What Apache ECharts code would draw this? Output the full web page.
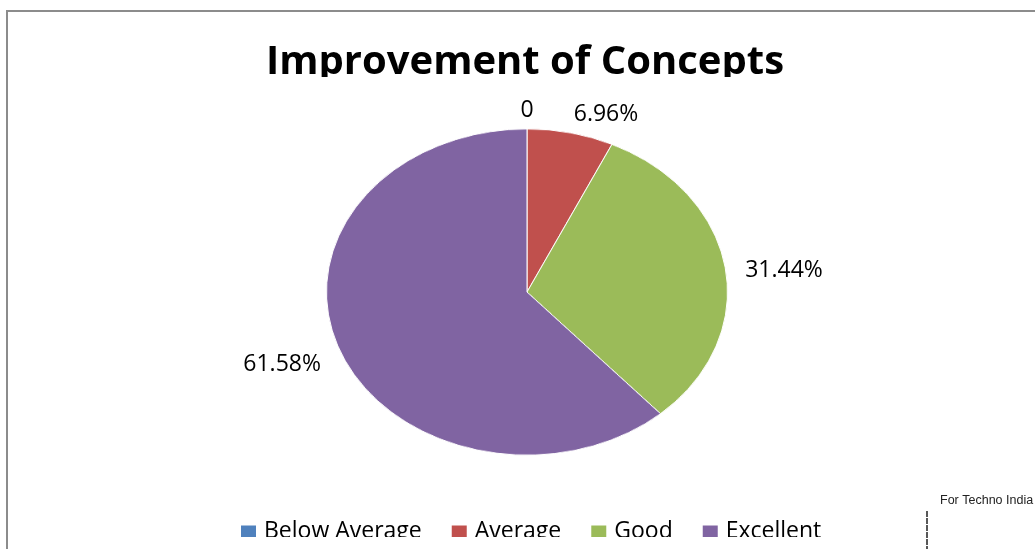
<!DOCTYPE html>
<html>
<head>
<meta charset="utf-8">
<title>Improvement of Concepts</title>
<script src="https://cdn.jsdelivr.net/npm/echarts@6.0.0/dist/echarts.min.js"></script>
<style>
  html, body { margin: 0; padding: 0; background: #fff; }
  #wrap { position: relative; width: 1035px; height: 549px; overflow: hidden; }
  /* the pie in the reference is an ellipse, so the pie layer is squashed vertically */
  #pieLayer {
    position: absolute; left: 0; top: 0; width: 1035px; height: 549px;
    transform: scaleY(0.813); transform-origin: 0 292px;
  }
  #main { position: absolute; left: 0; top: 0; width: 1035px; height: 549px; }
</style>
</head>
<body>
<div id="wrap">
  <div id="pieLayer"></div>
  <div id="main"></div>
</div>
<script>
// data
const categories = ['Below Average', 'Average', 'Good', 'Excellent'];
const shares = [0, 6.96, 31.44, 61.58];
const colors = ['#4F81BD', '#C0504D', '#9BBB59', '#8064A2'];

// pie geometry (pixels)
const CX = 527, CY = 292, RX = 200.5, RY = 163;
const FONT = '"Open Sans", "DejaVu Sans", sans-serif';

// 1. the (vertically scaled) pie itself, no labels
const pieChart = echarts.init(document.getElementById('pieLayer'));
pieChart.setOption({
  animation: false,
  series: [{
    type: 'pie',
    center: [CX, CY],
    radius: RX,
    startAngle: 90,
    clockwise: true,
    avoidLabelOverlap: false,
    silent: true,
    label: { show: false },
    labelLine: { show: false },
    itemStyle: { borderColor: '#fff', borderWidth: 1 },
    data: categories.map((name, i) => ({
      name: name, value: shares[i], itemStyle: { color: colors[i] }
    }))
  }]
});

// mid angle of every slice, clockwise from the top
const total = shares.reduce((a, b) => a + b, 0);
let acc = 0;
const midAngles = shares.map(v => {
  const m = (acc + v / 2) / total * Math.PI * 2;
  acc += v;
  return m;
});

// 2. title, legend and data labels, not scaled
const chart = echarts.init(document.getElementById('main'));
chart.setOption({
  animation: false,
  title: {
    text: 'Improvement of Concepts',
    left: 266,
    top: 43,
    padding: 0,
    textStyle: { fontFamily: FONT, fontSize: 40, fontWeight: 'bold', color: '#000' }
  },
  legend: {
    left: 241,
    top: 520,
    padding: 0,
    itemWidth: 15,
    itemHeight: 12,
    itemGap: 30,
    icon: 'rect',
    textStyle: { fontFamily: FONT, fontSize: 23, color: '#000', padding: [0, 0, 0, 3] },
    data: categories.map((name, i) => ({ name: name, itemStyle: { color: colors[i] } }))
  },
  graphic: [
    { type: 'rect', z: 100, silent: true,
      shape: { x: 7, y: 11, width: 1100, height: 600 },
      style: { fill: 'none', stroke: '#8c8c8c', lineWidth: 2 } },
    // the reference cuts off the bottom of the title and legend text
    { type: 'rect', z: 100, silent: true,
      shape: { x: 250, y: 77, width: 560, height: 14 },
      style: { fill: '#fff' } },
    { type: 'rect', z: 100, silent: true,
      shape: { x: 230, y: 537, width: 620, height: 12 },
      style: { fill: '#fff' } },
    // stamp fragment in the corner
    { type: 'text', z: 100, silent: true, x: 940, y: 494,
      style: { text: 'For Techno India', font: '12.5px "Liberation Sans", Arial, sans-serif', fill: '#222' } },
    { type: 'line', z: 100, silent: true,
      shape: { x1: 927, y1: 511, x2: 927, y2: 549 },
      style: { stroke: '#222', lineWidth: 1.5, lineDash: [6, 1] } }
  ],
  series: [{
    type: 'pie',
    center: [CX, CY],
    radius: RX,
    startAngle: 90,
    clockwise: true,
    avoidLabelOverlap: false,
    silent: true,
    itemStyle: { color: 'rgba(0,0,0,0)' },
    label: {
      show: true,
      position: 'outside',
      fontFamily: FONT,
      fontSize: 23,
      color: '#000',
      formatter: p => p.value === 0 ? '0' : p.value.toFixed(2) + '%'
    },
    labelLine: { show: false },
    // place labels just outside the ellipse
    labelLayout: function (params) {
      const a = midAngles[params.dataIndex];
      const s = Math.sin(a), c = Math.cos(a);
      const px = CX + RX * s, py = CY - RY * c;
      const vAlign = c > 0.5 ? 'bottom' : (c < -0.3 ? 'top' : 'middle');
      return {
        x: px + 20 * s - (c > 0.5 ? 5 * s : 0),
        y: py - 7 * c + (vAlign === 'middle' ? 3 : 0),
        align: s > 0.1 ? 'left' : (s < -0.1 ? 'right' : 'center'),
        verticalAlign: vAlign
      };
    },
    data: categories.map((name, i) => ({ name: name, value: shares[i] }))
  }]
});
</script>
</body>
</html>
